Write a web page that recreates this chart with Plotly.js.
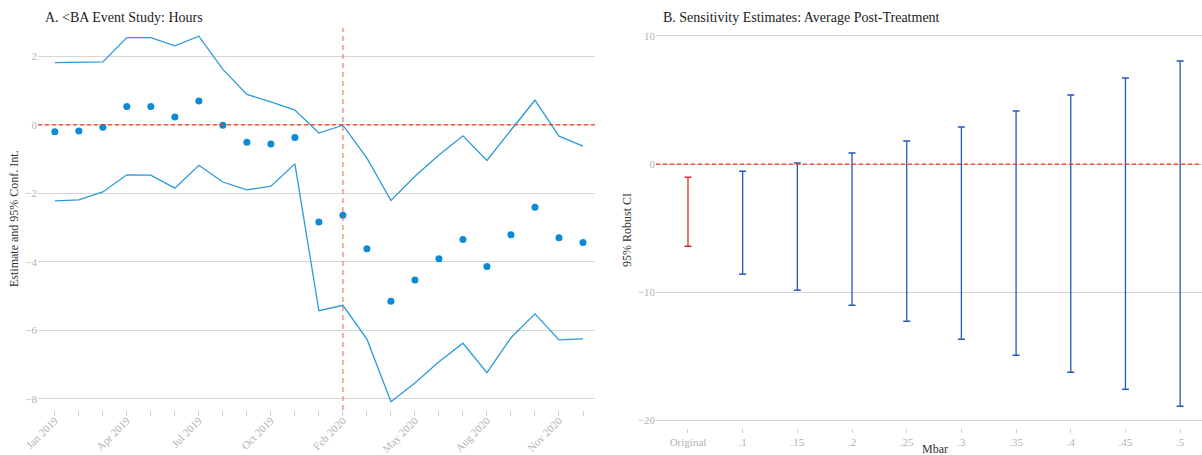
<!DOCTYPE html>
<html>
<head>
<meta charset="utf-8">
<script src="https://cdn.plot.ly/plotly-3.0.1.min.js"></script>
<style>
  html, body { margin: 0; padding: 0; background: #fff; }
  #chart { width: 1202px; height: 455px; }
</style>
</head>
<body>
<div id="chart"></div>
<script>
// Panel A: monthly event-study estimates with 95% confidence bounds
const months = [
  "Jan 2019", "Feb 2019", "Mar 2019", "Apr 2019", "May 2019", "Jun 2019",
  "Jul 2019", "Aug 2019", "Sep 2019", "Oct 2019", "Nov 2019", "Dec 2019",
  "Feb 2020", "Mar 2020", "Apr 2020", "May 2020", "Jun 2020", "Jul 2020",
  "Aug 2020", "Sep 2020", "Oct 2020", "Nov 2020", "Dec 2020"
];
const estimate = [
  -0.20, -0.18, -0.07, 0.54, 0.54, 0.23, 0.70, -0.01, -0.51, -0.56, -0.37, -2.84,
  -2.64, -3.62, -5.15, -4.53, -3.91, -3.35, -4.14, -3.21, -2.41, -3.30, -3.44
];
const ciUpper = [
  1.82, 1.82, 1.84, 2.55, 2.55, 2.31, 2.59, 1.62, 0.89, 0.67, 0.43, -0.24,
  -0.01, -0.97, -2.21, -1.50, -0.88, -0.32, -1.04, -0.15, 0.72, -0.33, -0.62
];
const ciLower = [
  -2.22, -2.19, -1.96, -1.46, -1.47, -1.85, -1.18, -1.67, -1.90, -1.79, -1.14, -5.43,
  -5.27, -6.26, -8.09, -7.54, -6.92, -6.38, -7.24, -6.22, -5.52, -6.28, -6.25
];
const treatmentMonth = "Feb 2020";
// every third month carries a label
const monthTickText = months.map((m, i) => (i % 3 === 0 ? m : ""));

// Panel B: robust confidence intervals by Mbar
const mbarLabels = ["Original", ".1", ".15", ".2", ".25", ".3", ".35", ".4", ".45", ".5"];
const robustLower = [-6.41, -8.59, -9.84, -11.02, -12.27, -13.67, -14.92, -16.25, -17.58, -18.90];
const robustUpper = [-1.02, -0.55, 0.08, 0.86, 1.80, 2.89, 4.14, 5.39, 6.72, 8.05];

const SERIF = "Liberation Serif, Times New Roman, serif";
const BLUE = "#0b8ad6";
const LINE_BLUE = "#2b9ad9";
const CI_BLUE = "#2159b5";
const CI_RED = "#d7302a";
const GRID = "#d6d6d6";
const TICK_TXT = "#b3b3b3";

const traces = [
  {
    x: months, y: ciUpper, xaxis: "x", yaxis: "y",
    type: "scatter", mode: "lines",
    line: { color: LINE_BLUE, width: 1.3 }, hoverinfo: "skip"
  },
  {
    x: months, y: ciLower, xaxis: "x", yaxis: "y",
    type: "scatter", mode: "lines",
    line: { color: LINE_BLUE, width: 1.3 }, hoverinfo: "skip"
  },
  {
    x: months, y: estimate, xaxis: "x", yaxis: "y",
    type: "scatter", mode: "markers",
    marker: { color: BLUE, size: 7 }
  }
];

// vertical interval segments with end caps, one per Mbar value
mbarLabels.forEach((lab, i) => {
  const col = i === 0 ? CI_RED : CI_BLUE;
  traces.push({
    x: [lab, lab], y: [robustLower[i], robustUpper[i]],
    xaxis: "x2", yaxis: "y2",
    type: "scatter", mode: "lines+markers",
    line: { color: col, width: 1.3 },
    marker: { symbol: "line-ew", size: 5, line: { color: col, width: 1.5 } },
    hoverinfo: "skip"
  });
});

const W = 1202, H = 455;
const px = v => v / W;
const py = v => (H - v) / H;

const layout = {
  width: W, height: H,
  margin: { l: 0, r: 0, t: 0, b: 0 },
  paper_bgcolor: "#fff", plot_bgcolor: "#fff",
  showlegend: false,
  font: { family: SERIF, color: "#333" },
  xaxis: {
    domain: [px(38), px(595)],
    type: "category",
    categoryorder: "array", categoryarray: months,
    range: [-0.7, 22.5],
    tickmode: "array", tickvals: months, ticktext: monthTickText,
    tickangle: -45,
    ticks: "outside", ticklen: 5, tickwidth: 1, tickcolor: "#d0d0d0",
    ticklabelstandoff: -6,
    showgrid: false, zeroline: false, showline: false,
    tickfont: { family: SERIF, size: 11, color: TICK_TXT },
    anchor: "y"
  },
  yaxis: {
    domain: [py(410), py(28)],
    range: [-8.33, 2.83],
    tickmode: "array", tickvals: [-8, -6, -4, -2, 0, 2],
    showgrid: true, gridcolor: GRID, gridwidth: 1,
    zeroline: false, showline: false, ticks: "",
    tickfont: { family: SERIF, size: 11, color: TICK_TXT },
    anchor: "x"
  },
  xaxis2: {
    domain: [px(656), 1],
    type: "category",
    categoryorder: "array", categoryarray: mbarLabels,
    range: [-0.585, 9.4],
    ticks: "outside", ticklen: 4, tickwidth: 1, tickcolor: "#d0d0d0",
    showgrid: false, zeroline: false, showline: false,
    tickfont: { family: SERIF, size: 11, color: TICK_TXT },
    anchor: "y2"
  },
  yaxis2: {
    domain: [py(428), py(33.4)],
    range: [-20.6, 10.2],
    tickmode: "array", tickvals: [-20, -10, 0, 10],
    showgrid: true, gridcolor: GRID, gridwidth: 1,
    zeroline: false, showline: false, ticks: "",
    tickfont: { family: SERIF, size: 11, color: TICK_TXT },
    anchor: "x2"
  },
  shapes: [
    {
      type: "line", xref: "x domain", yref: "y",
      x0: 0, x1: 1, y0: 0, y1: 0,
      line: { color: "#ff3318", width: 1.2, dash: "4px,3px" }
    },
    {
      type: "line", xref: "x", yref: "y domain",
      x0: treatmentMonth, x1: treatmentMonth, y0: 0, y1: 1,
      line: { color: "rgba(255,85,60,0.65)", width: 1.5, dash: "5px,4px" }
    },
    {
      type: "line", xref: "x2 domain", yref: "y2",
      x0: 0, x1: 1, y0: 0, y1: 0,
      line: { color: "#ff3318", width: 1.2, dash: "4px,3px" }
    }
  ],
  annotations: [
    {
      text: "A. &lt;BA Event Study: Hours",
      xref: "paper", yref: "paper", x: px(43), y: py(18),
      xanchor: "left", yanchor: "middle", showarrow: false,
      font: { family: SERIF, size: 14, color: "#222" }
    },
    {
      text: "B. Sensitivity Estimates: Average Post-Treatment",
      xref: "paper", yref: "paper", x: px(661), y: py(18),
      xanchor: "left", yanchor: "middle", showarrow: false,
      font: { family: SERIF, size: 14, color: "#222" }
    },
    {
      text: "Estimate and 95% Conf. Int.",
      xref: "paper", yref: "paper", x: px(14), y: py(219),
      xanchor: "center", yanchor: "middle", textangle: -90, showarrow: false,
      font: { family: SERIF, size: 12, color: "#333" }
    },
    {
      text: "95% Robust CI",
      xref: "paper", yref: "paper", x: px(627), y: py(230),
      xanchor: "center", yanchor: "middle", textangle: -90, showarrow: false,
      font: { family: SERIF, size: 12, color: "#333" }
    },
    {
      text: "Mbar",
      xref: "paper", yref: "paper", x: px(935), y: py(449),
      xanchor: "center", yanchor: "middle", showarrow: false,
      font: { family: SERIF, size: 12, color: "#333" }
    }
  ]
};

Plotly.newPlot("chart", traces, layout, { displayModeBar: false, staticPlot: true });
</script>
</body>
</html>
